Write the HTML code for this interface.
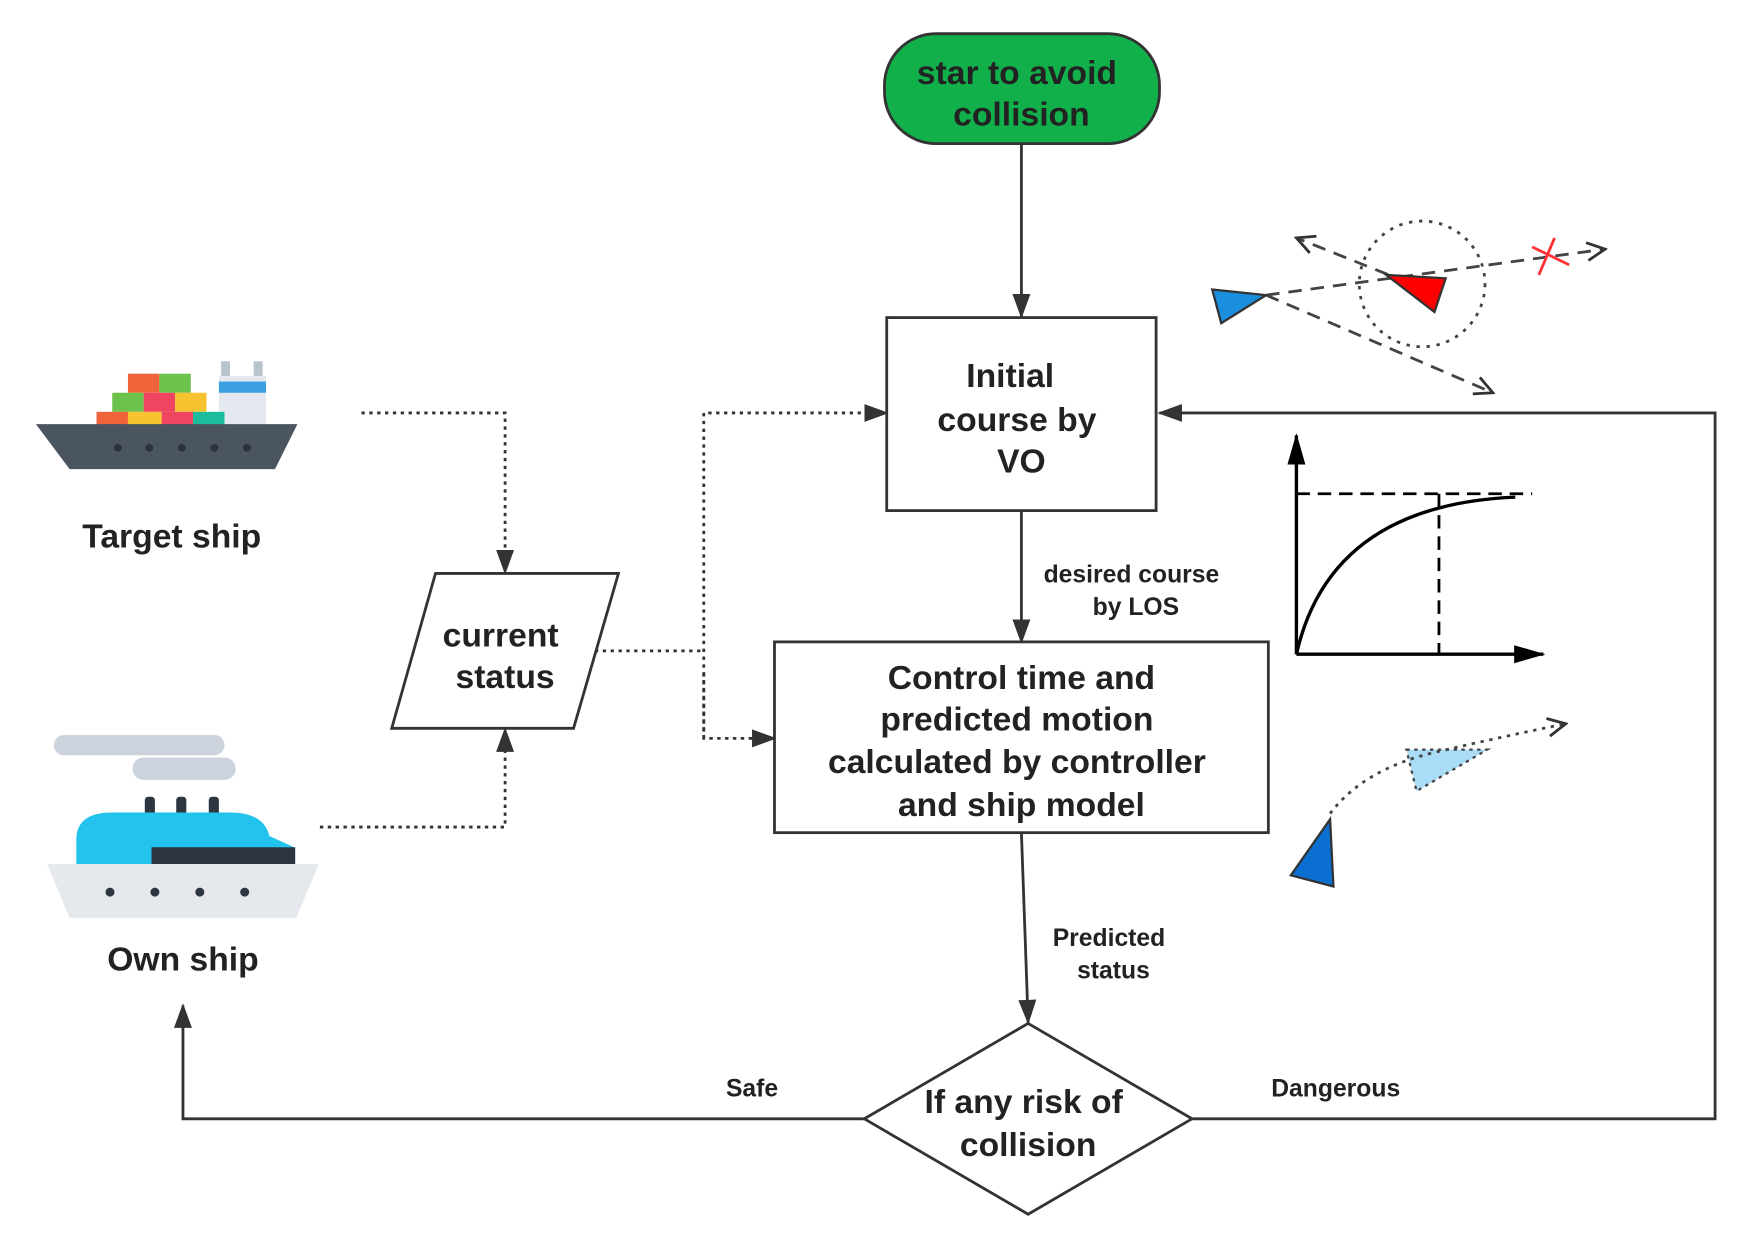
<!DOCTYPE html>
<html><head><meta charset="utf-8"><style>
html,body{margin:0;padding:0;background:#fff;}
svg{display:block;}
text{font-family:"Liberation Sans",sans-serif;font-weight:bold;fill:#222;text-anchor:middle;}
</style></head><body>
<svg width="1751" height="1240" viewBox="0 0 1560 1105" preserveAspectRatio="none" xmlns="http://www.w3.org/2000/svg">
<defs>
<marker id="a" markerWidth="10" markerHeight="10" refX="9" refY="5" orient="auto" markerUnits="userSpaceOnUse" viewBox="0 0 10 10"><path d="M0,0 L10,5 L0,10 z" fill="#333"/></marker>
<marker id="big" markerWidth="22" markerHeight="22" refX="20" refY="11" orient="auto" markerUnits="userSpaceOnUse"><path d="M0,3 L22,11 L0,19 z" fill="#333"/></marker>
<marker id="bk" markerWidth="28" markerHeight="20" refX="26" refY="10" orient="auto" markerUnits="userSpaceOnUse"><path d="M0,2 L28,10 L0,18 z" fill="#000"/></marker>
<marker id="open" markerWidth="20" markerHeight="20" refX="18" refY="10" orient="auto" markerUnits="userSpaceOnUse"><path d="M2,2 L18,10 L2,18" fill="none" stroke="#333" stroke-width="2.5"/></marker>
</defs>
<g stroke="#333" stroke-width="2.5" fill="none">
<!-- main flow -->
<line x1="910" y1="128" x2="910" y2="282" marker-end="url(#big)"/>
<line x1="910" y1="455" x2="910" y2="572" marker-end="url(#big)"/>
<line x1="910" y1="742" x2="916" y2="911" marker-end="url(#big)"/>
<polyline points="770,997 163,997 163,896" marker-end="url(#big)"/>
<polyline points="1062,997 1528,997 1528,368 1033,368" marker-end="url(#big)"/>
<!-- dotted -->
<g stroke-dasharray="3,4">
<polyline points="322,368 450,368 450,510" marker-end="url(#big)"/>
<polyline points="285,737 450,737 450,650" marker-end="url(#big)"/>
<polyline points="530,580 627,580"/>
<polyline points="627,658 627,368 790,368" marker-end="url(#big)"/>
<polyline points="627,600 627,658 690,658" marker-end="url(#big)"/>
</g>
</g>
<!-- shapes -->
<rect x="788" y="30" width="245" height="98" rx="46" fill="#12b04a" stroke="#333" stroke-width="2.5"/>
<rect x="790" y="283" width="240" height="172" fill="#fff" stroke="#333" stroke-width="2.5"/>
<rect x="690" y="572" width="440" height="170" fill="#fff" stroke="#333" stroke-width="2.5"/>
<polygon points="388,511 551,511 511,649 349,649" fill="#fff" stroke="#333" stroke-width="2.5"/>
<polygon points="916,912 1062,997 916,1082 770,997" fill="#fff" stroke="#333" stroke-width="2.5"/>
<!-- texts -->
<g font-size="30">
<text x="906" y="75">star to avoid</text><text x="910" y="112">collision</text>
<text x="900" y="345">Initial</text><text x="906" y="384">course by</text><text x="910" y="421">VO</text>
<text x="910" y="614">Control time  and</text><text x="906" y="651">predicted motion</text>
<text x="906" y="689">calculated by controller</text><text x="910" y="727">and ship model</text>
<text x="446" y="576">current</text><text x="450" y="613">status</text>
<text x="912" y="992">If any risk of</text><text x="916" y="1030">collision</text>
<text x="153" y="488">Target ship</text><text x="163" y="865">Own ship</text>
</g>
<g font-size="22" style="fill:#444">
<text x="1008" y="519">desired course</text><text x="1012" y="548">by LOS</text>
<text x="988" y="843">Predicted</text><text x="992" y="872">status</text>
<text x="670" y="977">Safe</text><text x="1190" y="977">Dangerous</text>
</g>
<!-- VO sketch -->
<g stroke="#444" stroke-width="2.5" fill="none" stroke-dasharray="12,8">
<line x1="1128" y1="263" x2="1430" y2="222" marker-end="url(#open)"/>
<line x1="1128" y1="263" x2="1330" y2="350" marker-end="url(#open)"/>
<line x1="1255" y1="252" x2="1155" y2="212" marker-end="url(#open)"/>
</g>
<circle cx="1267" cy="253" r="56" fill="none" stroke="#444" stroke-width="2.5" stroke-dasharray="3,6"/>
<polygon points="1080,258 1128,263 1088,288" fill="#1a8fe0" stroke="#333" stroke-width="2"/>
<polygon points="1235,245 1288,248 1278,278" fill="#f00" stroke="#333" stroke-width="2"/>
<g stroke="#f33" stroke-width="2.5"><line x1="1365" y1="220" x2="1398" y2="236"/><line x1="1385" y1="212" x2="1371" y2="245"/></g>
<!-- graph -->
<g stroke="#000" stroke-width="3" fill="none">
<line x1="1155" y1="583" x2="1155" y2="388" marker-end="url(#bk)"/>
<line x1="1155" y1="583" x2="1375" y2="583" marker-end="url(#bk)"/>
<path d="M1155,583 Q1185,450 1350,443"/>
<g stroke-dasharray="12,7" stroke-width="2.5"><line x1="1155" y1="440" x2="1365" y2="440"/><line x1="1282" y1="440" x2="1282" y2="583"/></g>
</g>
<!-- bottom sketch -->
<polygon points="1253,668 1325,668 1262,705" fill="#a8dcf7" stroke="#444" stroke-width="2" stroke-dasharray="3,4"/>
<path d="M1185,725 Q1215,685 1280,670 T1395,645" fill="none" stroke="#444" stroke-width="2.5" stroke-dasharray="3,5" marker-end="url(#open)"/>
<polygon points="1150,780 1188,790 1185,730" fill="#0a6fd0" stroke="#333" stroke-width="2"/>
<!-- target ship -->
<g>
<rect x="197" y="322" width="8" height="15" fill="#b8c4cc"/><rect x="226" y="322" width="8" height="15" fill="#b8c4cc"/>
<rect x="195" y="335" width="42" height="45" fill="#e3e9ee"/><rect x="195" y="340" width="42" height="10" fill="#3b9fe0"/>
<rect x="114" y="333" width="28" height="17" fill="#f0623a"/><rect x="142" y="333" width="28" height="17" fill="#6cc24a"/>
<rect x="100" y="350" width="28" height="17" fill="#6cc24a"/><rect x="128" y="350" width="28" height="17" fill="#ef4561"/><rect x="156" y="350" width="28" height="17" fill="#f7c331"/>
<rect x="86" y="367" width="28" height="14" fill="#f0623a"/><rect x="114" y="367" width="30" height="14" fill="#f7c331"/><rect x="144" y="367" width="28" height="14" fill="#ef4561"/><rect x="172" y="367" width="28" height="14" fill="#1bbc9b"/>
<polygon points="32,378 265,378 245,418 62,418" fill="#4a5560"/>
<g fill="#2c343b"><circle cx="105" cy="399" r="3.5"/><circle cx="133" cy="399" r="3.5"/><circle cx="162" cy="399" r="3.5"/><circle cx="191" cy="399" r="3.5"/><circle cx="220" cy="399" r="3.5"/></g>
</g>
<!-- own ship -->
<g>
<rect x="48" y="655" width="152" height="18" rx="9" fill="#cdd3dc"/><rect x="118" y="675" width="92" height="20" rx="10" fill="#cdd3dc"/>
<rect x="129" y="710" width="9" height="18" rx="3" fill="#2d3640"/><rect x="157" y="710" width="9" height="18" rx="3" fill="#2d3640"/><rect x="186" y="710" width="9" height="18" rx="3" fill="#2d3640"/>
<path d="M68,770 L68,748 Q68,724 100,724 L205,724 Q235,724 240,745 L262,755 L262,770 Z" fill="#22c3ec"/>
<rect x="135" y="755" width="128" height="15" fill="#2d3640"/>
<polygon points="42,770 284,770 264,818 62,818" fill="#e5e8ec"/>
<g fill="#2d3640"><circle cx="98" cy="795" r="4"/><circle cx="138" cy="795" r="4"/><circle cx="178" cy="795" r="4"/><circle cx="218" cy="795" r="4"/></g>
</g>
</svg>
</body></html>
